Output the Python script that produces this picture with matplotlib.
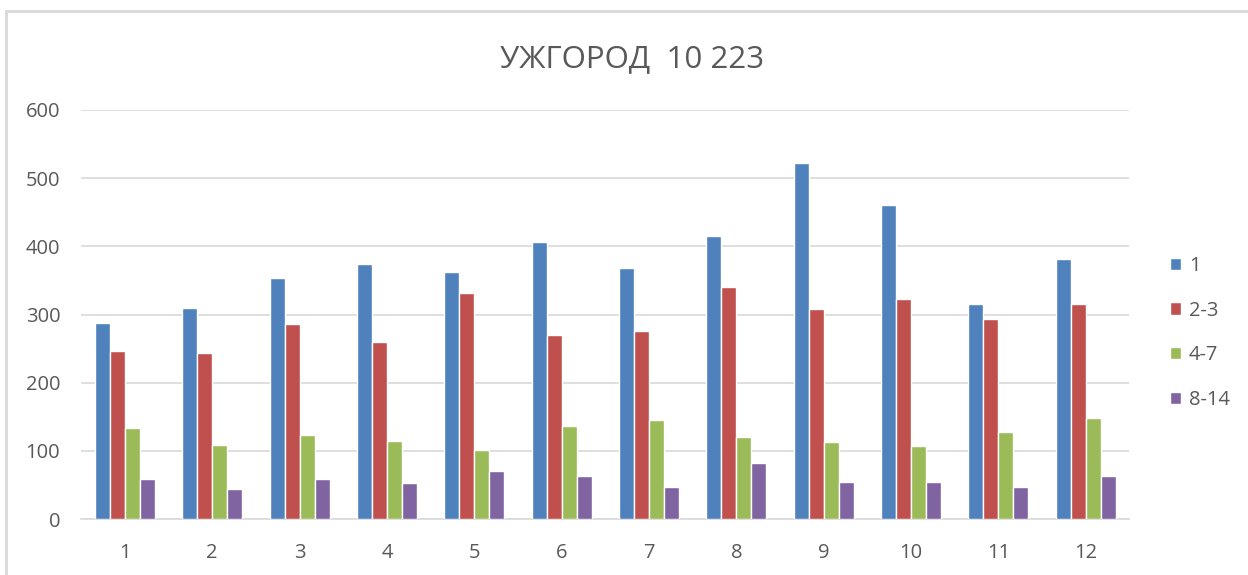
import matplotlib.pyplot as plt
import numpy as np
from matplotlib.patches import Rectangle

plt.rcParams['font.family'] = ['Open Sans', 'DejaVu Sans']

# данные
months = [str(i) for i in range(1, 13)]
series_names = ['1', '2-3', '4-7', '8-14']
s1 = [287, 310, 353, 374, 362, 407, 368, 415, 522, 460, 316, 381]
s2 = [246, 244, 286, 260, 332, 270, 276, 340, 308, 323, 293, 316]
s3 = [133, 109, 124, 115, 102, 137, 145, 120, 113, 107, 128, 149]
s4 = [59, 45, 59, 53, 70, 63, 47, 83, 55, 55, 47, 63]
colors = ['#4F81BD', '#C0504D', '#9BBB59', '#8064A2']
TEXT = '#595959'
GRID = '#D9D9D9'

fig = plt.figure(figsize=(12.48, 5.75), dpi=100)
ax = fig.add_axes([0.065, 0.097, 0.840, 0.712])

x = np.arange(1, 13)
w = 0.1716
for i, (vals, c, name) in enumerate(zip([s1, s2, s3, s4], colors, series_names)):
    ax.bar(x + (i - 1.5) * w, vals, width=w, color=c, edgecolor='white',
           linewidth=1, label=name, zorder=3)

ax.set_xlim(0.5, 12.5)
ax.set_ylim(0, 600)
ax.set_yticks(range(0, 601, 100))
ax.set_xticks(x)
ax.set_xticklabels(months)
ax.yaxis.grid(True, color=GRID, linewidth=1.2, zorder=0)
for side in ['top', 'right', 'left']:
    ax.spines[side].set_visible(False)
ax.spines['bottom'].set_color(GRID)
ax.spines['bottom'].set_linewidth(1.2)
ax.tick_params(axis='both', length=0, labelsize=14.5, labelcolor=TEXT)
ax.tick_params(axis='y', pad=15)
ax.tick_params(axis='x', pad=17)

fig.text(0.5065, 0.898, 'УЖГОРОД  10 223', ha='center', va='center',
         fontsize=22.5, color=TEXT)

leg = ax.legend(loc='center left', bbox_to_anchor=(1.021, 0.455), frameon=False,
                fontsize=14.5, labelspacing=1.22, handlelength=0.55,
                handleheight=0.55, handletextpad=0.4, labelcolor=TEXT)

# рамка диаграммы
fig.patches.append(Rectangle((6 / 1248, -0.1), 1.2, 1 - 11 / 575 + 0.1,
                             transform=fig.transFigure, fill=False,
                             edgecolor=GRID, linewidth=2))

fig.savefig('out.png', dpi=100, facecolor='white')
